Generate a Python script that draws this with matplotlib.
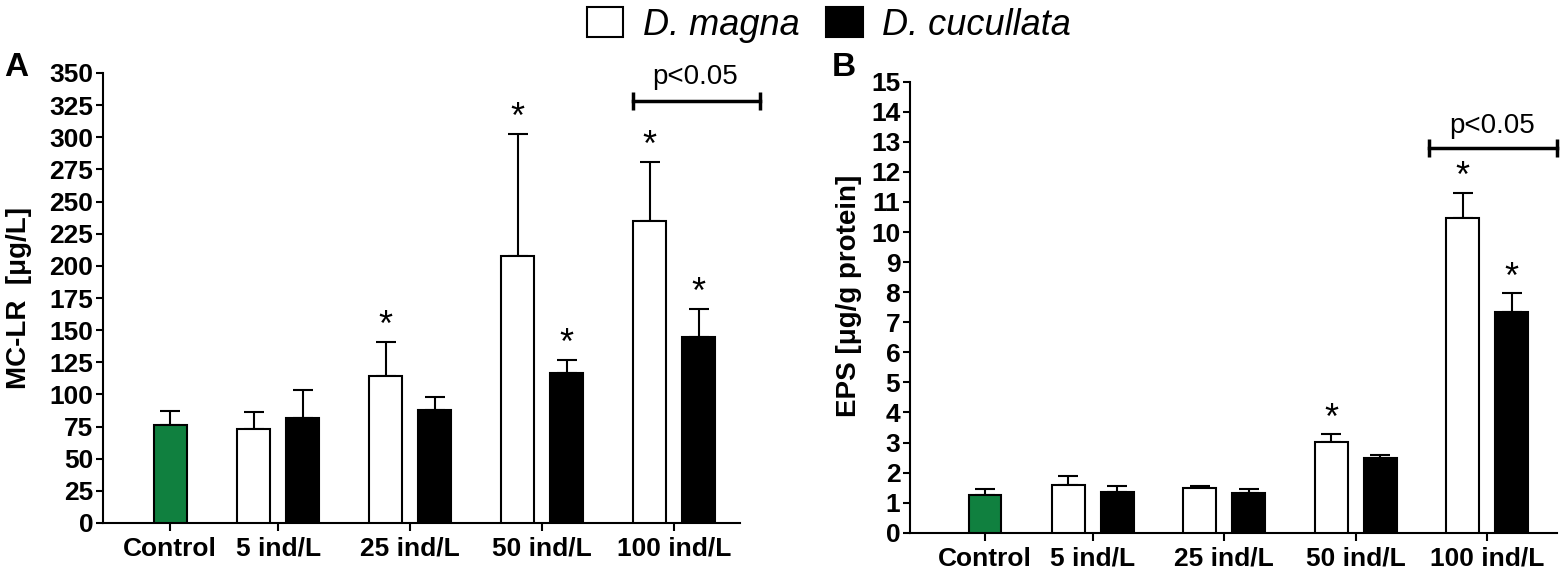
import matplotlib
matplotlib.use('Agg')
import matplotlib.pyplot as plt
from matplotlib.patches import Patch

plt.rcParams['font.family'] = ['Liberation Sans', 'DejaVu Sans']

groups = ['Control', '5 ind/L', '25 ind/L', '50 ind/L', '100 ind/L']
species = ['D. magna', 'D. cucullata']

# panel A: MC-LR [ug/L]
mclr_control = 76.5
mclr_control_sem = 10.4
mclr_magna = [73.1, 114.6, 207.4, 235.1]
mclr_magna_sem = [13.0, 26.2, 95.4, 45.7]
mclr_cuc = [81.7, 88.1, 116.7, 144.7]
mclr_cuc_sem = [21.5, 9.6, 10.3, 22.0]
mclr_stars_magna = [False, True, True, True]
mclr_stars_cuc = [False, False, True, True]

# panel B: EPS [ug/g protein]
eps_control = 1.27
eps_control_sem = 0.17
eps_magna = [1.59, 1.50, 3.03, 10.46]
eps_magna_sem = [0.29, 0.05, 0.25, 0.85]
eps_cuc = [1.34, 1.31, 2.47, 7.33]
eps_cuc_sem = [0.21, 0.13, 0.11, 0.63]
eps_stars_magna = [False, False, True, True]
eps_stars_cuc = [False, False, False, True]

GREEN = '#10803f'
LW = 1.5
xpos = [0, 0.82, 1.82, 2.82, 3.82]
off = 0.186
bw = 0.25


def draw_panel(ax, ctrl, ctrl_sem, magna, magna_sem, cuc, cuc_sem, st_m, st_c):
    xm = [x - off for x in xpos[1:]]
    xc = [x + off for x in xpos[1:]]
    ax.bar([xpos[0]], [ctrl], bw, color=GREEN, edgecolor='black', linewidth=LW, zorder=3)
    ax.bar(xm, magna, bw, color='white', edgecolor='black', linewidth=LW, zorder=3)
    ax.bar(xc, cuc, bw, color='black', edgecolor='black', linewidth=LW, zorder=3)
    allx = [xpos[0]] + xm + xc
    ally = [ctrl] + magna + cuc
    alle = [ctrl_sem] + magna_sem + cuc_sem
    ax.errorbar(allx, ally, yerr=[[0] * len(alle), alle], fmt='none', ecolor='black',
                elinewidth=LW, capsize=7, capthick=LW, zorder=2)
    for x, y, e, s in zip(xm + xc, magna + cuc, magna_sem + cuc_sem, st_m + st_c):
        if s:
            ax.annotate('*', (x, y + e), xytext=(0, 4), textcoords='offset points',
                        ha='center', va='baseline', fontsize=26, annotation_clip=False)
    ax.spines['top'].set_visible(False)
    ax.spines['right'].set_visible(False)
    ax.spines['left'].set_linewidth(LW)
    ax.spines['bottom'].set_linewidth(LW)
    ax.set_xticks(xpos)
    ax.set_xticklabels(groups, fontsize=19, fontweight='bold')
    ax.tick_params(axis='x', length=6, width=LW, pad=4)
    ax.tick_params(axis='y', length=5, width=LW, pad=2, labelsize=19)


fig = plt.figure(figsize=(15.67, 5.83), dpi=100)

axA = fig.add_axes([103 / 1567, 60 / 583, 637 / 1567, 450 / 583])
draw_panel(axA, mclr_control, mclr_control_sem, mclr_magna, mclr_magna_sem,
           mclr_cuc, mclr_cuc_sem, mclr_stars_magna, mclr_stars_cuc)
axA.set_xlim(-0.508, 4.318)
axA.set_ylim(0, 350)
axA.set_yticks(range(0, 351, 25))
for lab in axA.get_yticklabels():
    lab.set_fontweight('bold')
axA.set_ylabel('MC-LR  [μg/L]', fontsize=20, fontweight='bold')
axA.yaxis.set_label_coords(-0.112, 0.5)
axA.plot([3.51, 4.47], [328, 328], color='black', lw=2.5, marker='|', ms=13, mew=2.5, clip_on=False)
axA.text(3.98, 337, 'p<0.05', ha='center', va='bottom', fontsize=20, clip_on=False)
fig.text(16 / 1567, 1 - 68 / 583, 'A', fontsize=24, fontweight='bold', ha='center', va='center')

axB = fig.add_axes([910 / 1567, 50.3 / 583, 647 / 1567, 451 / 583])
draw_panel(axB, eps_control, eps_control_sem, eps_magna, eps_magna_sem,
           eps_cuc, eps_cuc_sem, eps_stars_magna, eps_stars_cuc)
axB.set_xlim(-0.570, 4.35)
axB.set_ylim(0, 15)
axB.set_yticks(range(0, 16))
for lab in axB.get_yticklabels():
    lab.set_fontweight('bold')
axB.set_ylabel('EPS [μg/g protein]', fontsize=20, fontweight='bold')
axB.yaxis.set_label_coords(-0.074, 0.525)
axB.plot([3.38, 4.35], [12.8, 12.8], color='black', lw=2.5, marker='|', ms=13, mew=2.5, clip_on=False)
axB.text(3.86, 13.1, 'p<0.05', ha='center', va='bottom', fontsize=20, clip_on=False)
fig.text(844 / 1567, 1 - 67 / 583, 'B', fontsize=24, fontweight='bold', ha='center', va='center')

handles = [Patch(facecolor='white', edgecolor='black', linewidth=LW),
           Patch(facecolor='black', edgecolor='black', linewidth=LW)]
fig.legend(handles, species, loc='center', bbox_to_anchor=(829 / 1567, 1 - 25 / 583),
           ncol=2, frameon=False, prop={'size': 26, 'style': 'italic'},
           handlelength=1.0, handleheight=0.9, handletextpad=0.55, columnspacing=0.75)

fig.savefig('out.png', dpi=100)
